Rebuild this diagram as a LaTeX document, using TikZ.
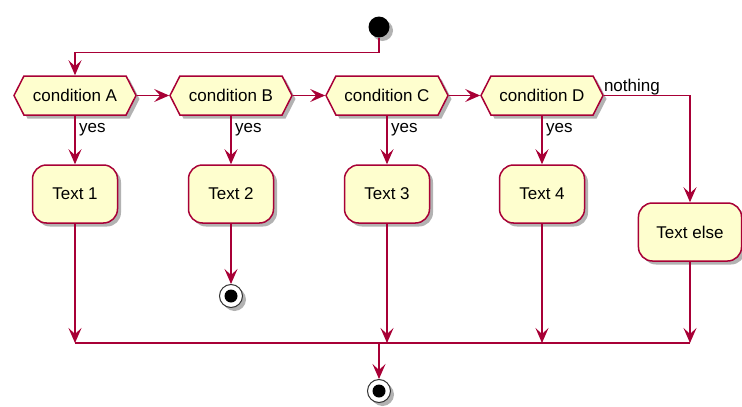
\documentclass[tikz,border=0pt]{standalone}
\usepackage{fontspec}
\setmainfont{Liberation Sans}
\usepackage{xcolor}
\usepackage{tikz}
\usetikzlibrary{arrows.meta,shapes.symbols,shadows}

\definecolor{umlred}{HTML}{A80036}
\definecolor{umlfill}{HTML}{FEFECE}
\newcommand{\umlfont}{\fontsize{17}{20}\selectfont}

\tikzset{
  umlshadow/.style={drop shadow={shadow xshift=3.5pt, shadow yshift=-3.5pt, opacity=0.3, fill=black}},
  flow/.style={umlred, line width=1.5pt, -{Stealth[length=15pt, width=13pt, inset=6pt]}},
  bar/.style={umlred, line width=1.5pt},
  cond/.style={signal, signal to=west and east, signal pointer angle=126,
    draw=umlred, fill=umlfill, line width=1.5pt, minimum width=122pt,
    minimum height=39pt, inner xsep=2pt, font=\umlfont, umlshadow},
  act/.style={rectangle, rounded corners=14pt, draw=umlred, fill=umlfill,
    line width=1.5pt, minimum width=85pt, minimum height=58pt, inner xsep=18pt,
    font=\umlfont, umlshadow},
  startdot/.style={circle, fill=black, minimum size=21pt, inner sep=0pt, umlshadow},
  stopdot/.style={circle, draw=black!80, fill=white, line width=1pt, minimum size=23pt,
    inner sep=0pt, umlshadow},
  lbl/.style={font=\umlfont, inner sep=0pt, anchor=base west},
}

\begin{document}
\begin{tikzpicture}[x=1pt, y=-1pt]
  \useasboundingbox (0,0) rectangle (742,407);
  % start
  \node[startdot] (start) at (379,27) {};
  % conditions
  \node[cond] (condA) at (75,95.5) {condition A};
  \node[cond] (condB) at (231,95.5) {condition B};
  \node[cond] (condC) at (387,95.5) {condition C};
  \node[cond] (condD) at (542,95.5) {condition D};
  % actions
  \node[act] (text1) at (75,194) {Text 1};
  \node[act] (text2) at (231,194) {Text 2};
  \node[act] (text3) at (387,194) {Text 3};
  \node[act] (text4) at (542,194) {Text 4};
  \node[act] (textelse) at (690,232) {Text else};
  % stops
  \node[stopdot] (stopB) at (231,296) {};
  \fill (stopB) circle (6.5pt);
  \node[stopdot] (stopEnd) at (379,391) {};
  \fill (stopEnd) circle (6.5pt);
  % merge bar
  \coordinate (mergeL) at (75,343);
  \coordinate (mergeR) at (690,343);
  \coordinate (join) at (379,343);

  % connectors
  \draw[flow] (start.south) -- ++(0,15) -| (condA.north);
  \draw[flow] (condA.east) -- (condB.west);
  \draw[flow] (condB.east) -- (condC.west);
  \draw[flow] (condC.east) -- (condD.west);
  \draw[flow] (condD.east) -| (textelse.north);
  \foreach \c/\t in {condA/text1, condB/text2, condC/text3, condD/text4} {
    \draw[flow] (\c.south) -- (\t.north);
    \node[lbl] at ([xshift=4pt, yshift=-17pt]\c.south) {yes};
  }
  \node[lbl] at ([yshift=4pt]condD.east) {nothing};
  \draw[flow] (text2.south) -- (stopB.north);
  \foreach \t in {text1, text3, text4, textelse}
    \draw[flow] (\t.south) -- (\t.south |- mergeL);
  \draw[bar] (mergeL) -- (mergeR);
  \draw[flow] (join) -- (stopEnd.north);
\end{tikzpicture}
\end{document}
